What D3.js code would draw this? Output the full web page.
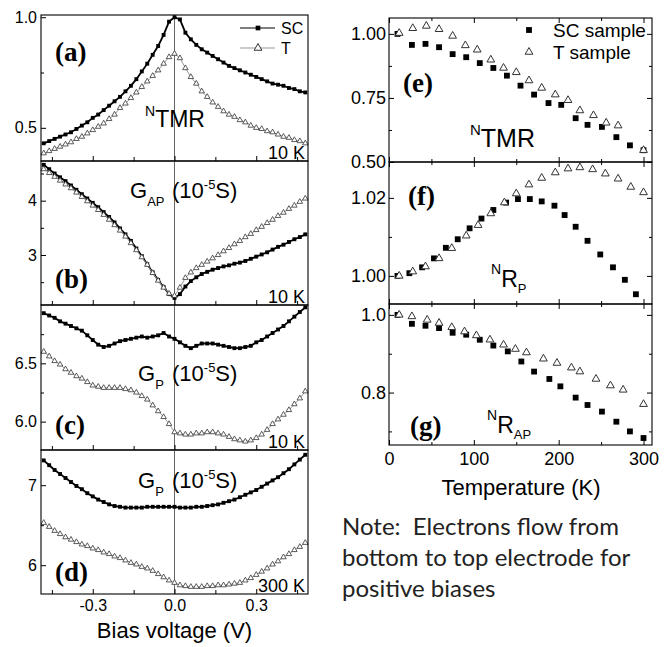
<!DOCTYPE html>
<html>
<head>
<meta charset="utf-8">
<script src="https://cdn.jsdelivr.net/npm/d3@7"></script>
<style>
body{margin:0;background:#fff}
svg{display:block}
</style>
</head>
<body>
<svg id="fig" width="668" height="647"></svg>
<script>
// ---- bias sweeps, panels (a)-(d) ----
var bias = [-0.48,-0.46,-0.44,-0.42,-0.40,-0.38,-0.36,-0.34,-0.32,-0.30,-0.28,-0.26,-0.24,-0.22,-0.20,-0.18,-0.16,-0.14,-0.12,-0.10,-0.08,-0.06,-0.04,-0.02,0,
	0.02,0.04,0.06,0.08,0.10,0.12,0.14,0.16,0.18,0.20,0.22,0.24,0.26,0.28,0.30,0.32,0.34,0.36,0.38,0.40,0.42,0.44,0.46,0.48];

var tmrSC = [0.43,0.44,0.45,0.46,0.47,0.48,0.495,0.51,0.525,0.545,0.56,0.58,0.60,0.62,0.64,0.665,0.69,0.72,0.755,0.79,0.83,0.87,0.92,0.98,1.0,
	0.99,0.93,0.90,0.875,0.855,0.84,0.825,0.81,0.795,0.78,0.77,0.76,0.75,0.74,0.73,0.72,0.71,0.70,0.695,0.69,0.68,0.675,0.665,0.66];
var tmrT = [0.385,0.395,0.405,0.415,0.425,0.435,0.45,0.46,0.475,0.49,0.505,0.52,0.54,0.56,0.59,0.61,0.635,0.66,0.685,0.71,0.735,0.76,0.79,0.82,0.835,
	0.815,0.77,0.73,0.70,0.665,0.64,0.615,0.595,0.575,0.56,0.55,0.535,0.525,0.51,0.50,0.495,0.485,0.48,0.47,0.46,0.455,0.445,0.44,0.43];

var gapSC = [4.66,4.58,4.50,4.43,4.36,4.28,4.20,4.12,4.04,3.96,3.88,3.79,3.70,3.60,3.49,3.38,3.26,3.12,2.98,2.83,2.68,2.54,2.41,2.28,2.21,
	2.28,2.42,2.52,2.59,2.65,2.69,2.73,2.76,2.79,2.81,2.84,2.86,2.89,2.93,2.97,3.01,3.05,3.10,3.15,3.19,3.24,3.29,3.33,3.38];
var gapT = [4.58,4.51,4.44,4.37,4.30,4.23,4.15,4.07,3.99,3.91,3.83,3.74,3.65,3.55,3.45,3.34,3.22,3.09,2.96,2.82,2.67,2.53,2.40,2.29,2.25,
	2.40,2.58,2.68,2.76,2.82,2.88,2.94,3.00,3.07,3.13,3.20,3.26,3.33,3.39,3.46,3.52,3.59,3.65,3.72,3.78,3.85,3.91,3.98,4.04];

var gp10SC = [6.93,6.91,6.89,6.86,6.84,6.82,6.80,6.78,6.74,6.70,6.66,6.64,6.65,6.67,6.69,6.70,6.71,6.72,6.73,6.72,6.73,6.74,6.76,6.73,6.71,
	6.68,6.65,6.63,6.65,6.67,6.67,6.67,6.66,6.65,6.64,6.63,6.63,6.64,6.65,6.68,6.70,6.73,6.76,6.79,6.82,6.86,6.90,6.94,6.98];
var gp10T = [6.60,6.56,6.52,6.49,6.45,6.42,6.39,6.37,6.34,6.31,6.30,6.29,6.29,6.29,6.29,6.28,6.27,6.25,6.22,6.19,6.14,6.09,6.04,5.98,5.91,
	5.90,5.89,5.89,5.90,5.90,5.91,5.91,5.90,5.89,5.87,5.85,5.84,5.83,5.84,5.86,5.89,5.93,5.98,6.02,6.06,6.10,6.15,6.20,6.26];

var gp300SC = [7.31,7.25,7.19,7.14,7.09,7.04,6.99,6.95,6.90,6.86,6.82,6.79,6.76,6.74,6.73,6.72,6.72,6.72,6.72,6.73,6.73,6.73,6.73,6.73,6.73,
	6.72,6.72,6.72,6.73,6.73,6.74,6.75,6.76,6.78,6.80,6.82,6.85,6.88,6.91,6.94,6.98,7.02,7.06,7.10,7.15,7.20,7.26,7.32,7.38];
var gp300T = [6.53,6.48,6.43,6.39,6.35,6.32,6.29,6.26,6.24,6.21,6.19,6.16,6.14,6.11,6.09,6.06,6.03,6.01,5.98,5.96,5.93,5.89,5.85,5.81,5.78,
	5.75,5.74,5.73,5.73,5.73,5.74,5.74,5.75,5.75,5.76,5.77,5.78,5.81,5.84,5.88,5.92,5.96,6.01,6.05,6.10,6.14,6.19,6.23,6.28];

// ---- temperature dependence, panels (e)-(g) ----
var tempSC_e = [10,27,43,59,75,91,107,123,139,155,171,188,203,220,234,251,268,284,300];
var nTmrSC = [1.000,0.957,0.961,0.948,0.921,0.909,0.886,0.867,0.837,0.798,0.763,0.730,0.723,0.671,0.645,0.637,0.597,0.565,0.546];
var tempT_e = [12,28,44,59,75,90,104,120,135,150,165,180,196,211,225,241,256,270,300];
var nTmrT = [1.003,1.022,1.031,1.018,0.992,0.955,0.938,0.899,0.867,0.850,0.818,0.789,0.763,0.741,0.701,0.682,0.653,0.642,0.546];

var tempSC_f = [10,24,39,53,67,81,95,109,123,138,152,166,180,195,207,220,234,249,264,278,291];
var nRpSC = [1.0000,1.0007,1.0022,1.0045,1.0072,1.0094,1.0122,1.0147,1.0169,1.0188,1.0197,1.0197,1.0191,1.0180,1.0156,1.0126,1.0090,1.0055,1.0022,0.9990,0.9953];
var tempT_f = [12,28,43,59,74,91,105,120,136,150,165,180,196,211,225,240,255,270,285,300];
var nRpT = [1.0000,1.0011,1.0024,1.0045,1.0071,1.0103,1.0130,1.0160,1.0188,1.0211,1.0234,1.0251,1.0265,1.0275,1.0278,1.0273,1.0262,1.0249,1.0228,1.0214];

var tempSC_g = [10,27,43,59,75,91,107,123,140,156,171,189,202,220,234,251,268,284,300];
var nRapSC = [1.000,0.977,0.972,0.966,0.954,0.949,0.936,0.921,0.906,0.880,0.854,0.835,0.816,0.787,0.768,0.751,0.725,0.700,0.683];
var tempT_g = [12,27,45,59,74,89,103,119,135,149,162,182,198,215,225,244,261,276,300];
var nRapT = [1.000,0.996,0.987,0.979,0.968,0.957,0.947,0.936,0.923,0.912,0.903,0.887,0.876,0.864,0.854,0.835,0.818,0.807,0.770];

// tick labels
var biasTicks = [-0.3, 0, 0.3];
var tempTicks = [0, 100, 200, 300];

var SANS = "'Liberation Sans', Arial, sans-serif";
var SERIF = "'Liberation Serif', 'Times New Roman', serif";
var svg = d3.select("#fig");

var xBias = d3.scaleLinear().domain([-0.49, 0.49]).range([41, 308]);
var xTemp = d3.scaleLinear().domain([0, 310]).range([389, 652]);

// plain hyphen minus like the original
var fmt1 = function(d){ return d.toFixed(1); };

function frame(x, y){
	svg.append("rect")
		.attr("x", x.range()[0]).attr("y", y.range()[1])
		.attr("width", x.range()[1] - x.range()[0])
		.attr("height", y.range()[0] - y.range()[1])
		.attr("fill", "none").attr("stroke", "#000").attr("stroke-width", 1.1);
}

function axis(gen, tx, ty, vals, size, fmt, pad, fs){
	var g = svg.append("g").attr("transform", "translate(" + tx + "," + ty + ")")
		.call(gen.tickValues(vals).tickSize(size).tickPadding(pad || 3).tickFormat(fmt || ""));
	g.select(".domain").remove();
	g.selectAll("line").attr("stroke", "#000");
	g.selectAll("text").attr("fill", "#000").style("font-family", SANS).style("font-size", (fs || 16) + "px");
	return g;
}

function series(xs, ys, x, y, kind, big){
	var pts = d3.zip(xs, ys);
	if(!big){
		svg.append("path").datum(pts)
			.attr("d", d3.line().x(function(d){return x(d[0]);}).y(function(d){return y(d[1]);}))
			.attr("fill", "none")
			.attr("stroke", kind == "sq" ? "#000" : "#999")
			.attr("stroke-width", kind == "sq" ? 1.8 : 1);
	}
	var sym = kind == "sq"
		? d3.symbol().type(d3.symbolSquare).size(big ? 34 : 15)
		: d3.symbol().type(d3.symbolTriangle).size(big ? 26 : 13);
	svg.append("g").selectAll("path").data(pts).join("path")
		.attr("transform", function(d){return "translate(" + x(d[0]) + "," + y(d[1]) + ")";})
		.attr("d", sym)
		.attr("fill", kind == "sq" ? "#000" : "#fff")
		.attr("stroke", kind == "sq" ? "none" : "#333")
		.attr("stroke-width", big ? 1 : 0.8);
}

function text(x, y, parts, family){
	var t = svg.append("text").attr("x", x).attr("y", y)
		.style("font-family", family || SANS).attr("fill", "#000");
	parts.forEach(function(p){
		var s = t.append("tspan").text(p.t).style("font-size", p.fs + "px");
		if(p.x != null) s.attr("x", p.x);
		if(p.dy) s.attr("dy", p.dy);
		if(p.bold) s.style("font-weight", "bold");
	});
	return t;
}

// ---- left column ----
var leftPanels = [
	{top: 15, bottom: 161, dom: [0.35, 1.01], major: [0.5, 1.0], minor: [0.75], fmt: fmt1, sc: tmrSC, t: tmrT},
	{top: 161, bottom: 305, dom: [2.08, 4.73], major: [3, 4], minor: [2.5, 3.5, 4.5], fmt: d3.format("d"), sc: gapSC, t: gapT},
	{top: 305, bottom: 450, dom: [5.757, 7.0], major: [6.0, 6.5], minor: [6.25, 6.75], fmt: fmt1, sc: gp10SC, t: gp10T},
	{top: 450, bottom: 594, dom: [5.64, 7.44], major: [6, 7], minor: [6.5], fmt: d3.format("d"), sc: gp300SC, t: gp300T}
];

leftPanels.forEach(function(p, i){
	var y = d3.scaleLinear().domain(p.dom).range([p.bottom, p.top]);
	svg.append("line").attr("x1", xBias(0)).attr("x2", xBias(0))
		.attr("y1", p.top).attr("y2", p.bottom).attr("stroke", "#666").attr("stroke-width", 1);
	series(bias, p.sc, xBias, y, "sq", false);
	series(bias, p.t, xBias, y, "tri", false);
	frame(xBias, y);
	axis(d3.axisBottom(xBias), 0, p.bottom, [-0.45, -0.15, 0.15, 0.45], -4);
	axis(d3.axisBottom(xBias), 0, p.bottom, biasTicks, -5, i == 3 ? fmt1 : "", 6, 16);
	axis(d3.axisLeft(y), xBias.range()[0], 0, p.minor, -3);
	axis(d3.axisLeft(y), xBias.range()[0], 0, p.major, -5, p.fmt, 4, 16);
});

// panel letters and annotations
[["(a)", 61], ["(b)", 288], ["(c)", 434], ["(d)", 581]].forEach(function(l){
	text(55, l[1], [{t: l[0], fs: 27, bold: true}], SERIF);
});
[["10 K", 159], ["10 K", 303], ["10 K", 448], ["300 K", 592]].forEach(function(l){
	text(305, l[1], [{t: l[0], fs: 18}]).attr("text-anchor", "end");
});
text(145, 127, [{t: "N", fs: 14, dy: -11}, {t: "TMR", fs: 23, dy: 11}]);
text(130, 198, [{t: "G", fs: 22}, {t: "AP", fs: 13, dy: 8}, {t: "(10", fs: 22, x: 172, dy: -8}, {t: "-5", fs: 13, dy: -9}, {t: "S)", fs: 22, dy: 9}]);
text(138, 381, [{t: "G", fs: 22}, {t: "P", fs: 13, dy: 8}, {t: "(10", fs: 22, x: 172, dy: -8}, {t: "-5", fs: 13, dy: -9}, {t: "S)", fs: 22, dy: 9}]);
text(138, 488, [{t: "G", fs: 22}, {t: "P", fs: 13, dy: 8}, {t: "(10", fs: 22, x: 172, dy: -8}, {t: "-5", fs: 13, dy: -9}, {t: "S)", fs: 22, dy: 9}]);
text(xBias(0), 638, [{t: "Bias voltage (V)", fs: 22}]).attr("text-anchor", "middle");

// legend (a)
var legA = [["SC", 28, "sq"], ["T", 48, "tri"]];
legA.forEach(function(l){
	svg.append("line").attr("x1", 240).attr("x2", 275).attr("y1", l[1]).attr("y2", l[1])
		.attr("stroke", l[2] == "sq" ? "#000" : "#999").attr("stroke-width", 1);
	svg.append("path").attr("transform", "translate(258," + l[1] + ")")
		.attr("d", d3.symbol().type(l[2] == "sq" ? d3.symbolSquare : d3.symbolTriangle).size(l[2] == "sq" ? 22 : 26))
		.attr("fill", l[2] == "sq" ? "#000" : "#fff").attr("stroke", l[2] == "sq" ? "none" : "#333");
	text(281, l[1] + 6, [{t: l[0], fs: 16}]);
});

// ---- right column ----
var rightPanels = [
	{top: 18, bottom: 162, dom: [0.50, 1.062], major: [0.50, 0.75, 1.00], minor: [0.625, 0.875], fmt: d3.format(".2f"),
		xs: tempSC_e, sc: nTmrSC, xt: tempT_e, t: nTmrT},
	{top: 162, bottom: 304, dom: [0.9928, 1.0292], major: [1.00, 1.02], minor: [1.01], fmt: d3.format(".2f"),
		xs: tempSC_f, sc: nRpSC, xt: tempT_f, t: nRpT},
	{top: 304, bottom: 445, dom: [0.665, 1.028], major: [0.8, 1.0], minor: [0.7, 0.9], fmt: fmt1,
		xs: tempSC_g, sc: nRapSC, xt: tempT_g, t: nRapT}
];

rightPanels.forEach(function(p, i){
	var y = d3.scaleLinear().domain(p.dom).range([p.bottom, p.top]);
	series(p.xs, p.sc, xTemp, y, "sq", true);
	series(p.xt, p.t, xTemp, y, "tri", true);
	frame(xTemp, y);
	var x0 = xTemp.range()[0], x1 = xTemp.range()[1];
	axis(d3.axisBottom(xTemp), 0, p.bottom, [50, 150, 250], -3);
	axis(d3.axisBottom(xTemp), 0, p.bottom, tempTicks, -5, i == 2 ? d3.format("d") : "", 7, 18);
	axis(d3.axisTop(xTemp), 0, p.top, [50, 150, 250], -3);
	axis(d3.axisTop(xTemp), 0, p.top, tempTicks, -5);
	axis(d3.axisLeft(y), x0, 0, p.minor, -3);
	axis(d3.axisLeft(y), x0, 0, p.major, -5, p.fmt, 3, 18);
	axis(d3.axisRight(y), x1, 0, p.minor, -3);
	axis(d3.axisRight(y), x1, 0, p.major, -5);
});

text(403, 92, [{t: "(e)", fs: 27, bold: true}], SERIF);
text(408, 205, [{t: "(f)", fs: 27, bold: true}], SERIF);
text(410, 435, [{t: "(g)", fs: 27, bold: true}], SERIF);
text(470, 147, [{t: "N", fs: 15, dy: -12}, {t: "TMR", fs: 25, dy: 12}]);
text(491, 287, [{t: "N", fs: 14, dy: -13}, {t: "R", fs: 23, dy: 13}, {t: "P", fs: 13, dy: 6}]);
text(487, 433, [{t: "N", fs: 14, dy: -13}, {t: "R", fs: 23, dy: 13}, {t: "AP", fs: 13, dy: 6}]);
text(521, 495, [{t: "Temperature (K)", fs: 22}]).attr("text-anchor", "middle");

// legend (e)
svg.append("path").attr("transform", "translate(529,30)")
	.attr("d", d3.symbol().type(d3.symbolSquare).size(34)).attr("fill", "#000");
svg.append("path").attr("transform", "translate(529,52)")
	.attr("d", d3.symbol().type(d3.symbolTriangle).size(26)).attr("fill", "#fff").attr("stroke", "#333");
text(553, 37, [{t: "SC sample", fs: 19}]);
text(553, 59, [{t: "T sample", fs: 19}]);

// note
var note = ["Note:  Electrons flow from", "bottom to top electrode for", "positive biases"];
note.forEach(function(s, i){
	text(342, 535 + i * 31, [{t: s, fs: 24}], "Lato, 'Open Sans', sans-serif")
		.style("white-space", "pre").attr("fill", "#222");
});
</script>
</body>
</html>
